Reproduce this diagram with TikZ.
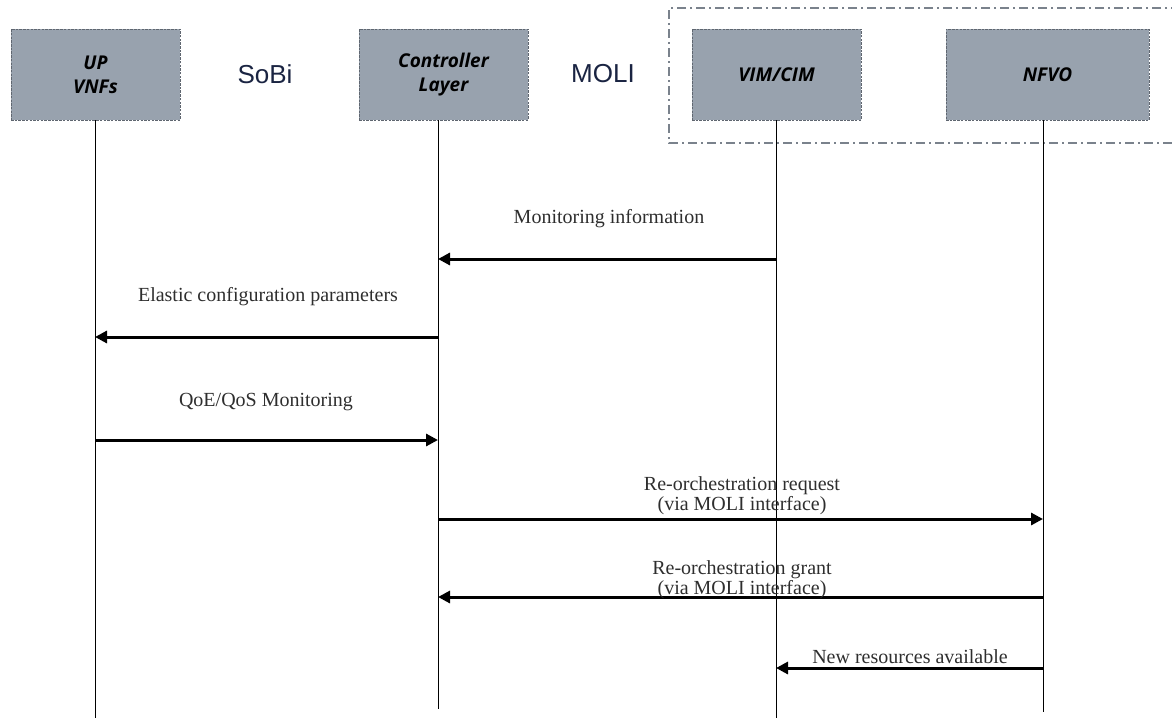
\documentclass[tikz,border=0pt]{standalone}
\usepackage{fontspec}
\setmainfont{Liberation Serif}
\newfontfamily\boxfont{Open Sans}
\newfontfamily\ifacefont{Liberation Sans}
\usetikzlibrary{arrows.meta}
\definecolor{boxfill}{HTML}{98A2AE}
\definecolor{boxline}{HTML}{5F6670}
\definecolor{framecol}{HTML}{7A828C}
\definecolor{ifacecol}{HTML}{1A2442}
\tikzset{
  x=1pt, y=-1pt,
  entity/.style={draw=boxline, fill=boxfill, dash pattern=on 2.5pt off 1.2pt, line width=0.9pt,
    minimum width=169pt, minimum height=91pt, inner sep=0pt, align=center,
    font=\boxfont\bfseries\itshape\fontsize{19}{24}\selectfont},
  iface/.style={text=ifacecol, font=\ifacefont\fontsize{26}{28}\selectfont},
  lifeline/.style={draw=black, line width=0.9pt},
  msg/.style={draw=black, line width=3pt, -{Triangle[length=12pt,width=12pt]}},
  msglabel/.style={align=center, font=\fontsize{20}{20}\selectfont, text=black!82}
}
\begin{document}
\begin{tikzpicture}
\useasboundingbox (0,0) rectangle (1172,718);

% NFV management domain (continues past the right margin)
\coordinate (frTR) at (1180,8);
\coordinate (frTL) at (669,8);
\coordinate (frBL) at (669,143);
\coordinate (frBR) at (1180,143);
\draw[framecol, line width=1.3pt, dash pattern=on 9pt off 4pt on 2pt off 4pt]
  (frTR) -- (frTL) -- (frBL) -- (frBR);

% participants
\node[entity] (up)   at (95.5,74.5)  {UP\\VNFs};
\node[entity] (ctl)  at (443.5,74.5) {Controller\\Layer};
\node[entity] (vim)  at (776.5,74.5) {VIM/CIM};
\node[entity, minimum width=203pt] (nfvo) at (1047.5,74.5) {NFVO};

% interface names
\node[iface] (sobi) at (265,74) {SoBi};
\node[iface] (moli) at (603,74) {MOLI};

% lifelines
\coordinate (upT)   at (95,120);   \coordinate (upB)   at (95,718);
\coordinate (ctlT)  at (438,120);  \coordinate (ctlB)  at (438,709);
\coordinate (vimT)  at (776,120);  \coordinate (vimB)  at (776,718);
\coordinate (nfvoT) at (1043,120); \coordinate (nfvoB) at (1043,712);
\draw[lifeline] (upT) -- (upB);
\draw[lifeline] (ctlT) -- (ctlB);
\draw[lifeline] (vimT) -- (vimB);
\draw[lifeline] (nfvoT) -- (nfvoB);

% message anchor points on the lifelines
\coordinate (m1a) at (776,259);  \coordinate (m1b) at (438,259);
\coordinate (m2a) at (438,337);  \coordinate (m2b) at (95,337);
\coordinate (m3a) at (95,440);   \coordinate (m3b) at (438,440);
\coordinate (m4a) at (438,519);  \coordinate (m4b) at (1043,519);
\coordinate (m5a) at (1043,597); \coordinate (m5b) at (438,597);
\coordinate (m6a) at (1043,668); \coordinate (m6b) at (776,668);

% messages
\draw[msg] (m1a) -- (m1b);
\draw[msg] (m2a) -- (m2b);
\draw[msg] (m3a) -- (m3b);
\draw[msg] (m4a) -- (m4b);
\draw[msg] (m5a) -- (m5b);
\draw[msg] (m6a) -- (m6b);

% message labels
\node[msglabel] (l1) at (609,219) {Monitoring information};
\node[msglabel] (l2) at (268,297) {Elastic configuration parameters};
\node[msglabel] (l3) at (266,402) {QoE/QoS Monitoring};
\node[msglabel] (l4) at (742,496) {Re-orchestration request\\(via MOLI interface)};
\node[msglabel] (l5) at (742,580) {Re-orchestration grant\\(via MOLI interface)};
\node[msglabel] (l6) at (910,657) {New resources available};
\end{tikzpicture}
\end{document}
